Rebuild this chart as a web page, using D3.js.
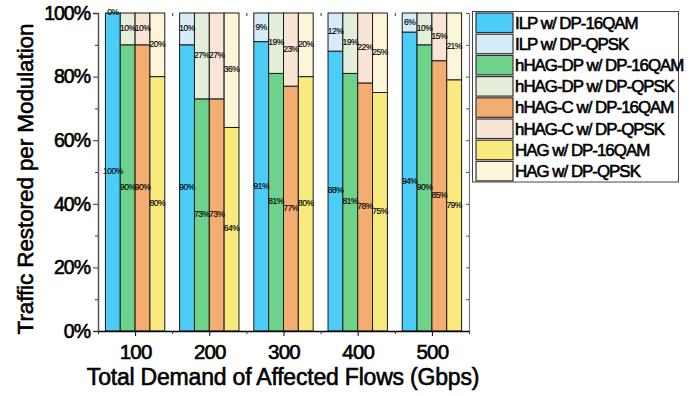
<!DOCTYPE html>
<html>
<head>
<meta charset="utf-8">
<script src="https://cdn.jsdelivr.net/npm/d3@7"></script>
<style>
  html, body { margin: 0; padding: 0; background: #fff; }
  svg { display: block; }
  text { font-family: "Liberation Sans", Arial, sans-serif; fill: #000; }
  .heavy { stroke: #000; stroke-width: 0.6px; }
</style>
</head>
<body>
<svg id="chart" width="691" height="396"></svg>
<script>
// Total demand of affected flows (Gbps)
const demands = [100, 200, 300, 400, 500];

// Algorithms, drawn left to right inside each demand group
const algorithms = ["ILP", "hHAG-DP", "hHAG-C", "HAG"];

// Share of traffic restored with DP-16QAM (%) per algorithm, per demand
const ilp16qam    = [100, 90, 91, 88, 94];
const hhagDp16qam = [90, 73, 81, 81, 90];
const hhagC16qam  = [90, 73, 77, 78, 85];
const hag16qam    = [80, 64, 80, 75, 79];

// Share of traffic restored with DP-QPSK (%) per algorithm, per demand
const ilpQpsk    = [0, 10, 9, 12, 6];
const hhagDpQpsk = [10, 27, 19, 19, 10];
const hhagCQpsk  = [10, 27, 23, 22, 15];
const hagQpsk    = [20, 36, 20, 25, 21];

const yTicks = [0, 20, 40, 60, 80, 100];

const legendLabels = [
  "ILP w/ DP-16QAM", "ILP w/ DP-QPSK",
  "hHAG-DP w/ DP-16QAM", "hHAG-DP w/ DP-QPSK",
  "hHAG-C w/ DP-16QAM", "hHAG-C w/ DP-QPSK",
  "HAG w/ DP-16QAM", "HAG w/ DP-QPSK"
];
const colors = [
  "#4ccdf8", "#d6ecf8",
  "#6dd38a", "#e3eedb",
  "#f4ad70", "#f8e5d6",
  "#f9ea7d", "#faf6d7"
];

const strong = [ilp16qam, hhagDp16qam, hhagC16qam, hag16qam];
const weak   = [ilpQpsk, hhagDpQpsk, hhagCQpsk, hagQpsk];

const svg = d3.select("#chart");

const x = d3.scaleLinear().domain([50, 550]).range([98, 469]);
const y = d3.scaleLinear().domain([0, 100]).range([331, 13]);
const barW = 20;            // bar width in Gbps units
const offsets = [-40, -20, 0, 20];

// stacked segments: 16QAM at the bottom, QPSK on top
const segments = [];
demands.forEach((d, i) => {
  algorithms.forEach((a, k) => {
    const lo = strong[k][i], hi = weak[k][i];
    segments.push({ d, k, y0: 0, y1: lo, v: lo, color: colors[2 * k] });
    segments.push({ d, k, y0: lo, y1: lo + hi, v: hi, color: colors[2 * k + 1] });
  });
});

const g = svg.append("g");

g.selectAll("rect.seg").data(segments).join("rect")
  .attr("class", "seg")
  .attr("x", s => x(s.d + offsets[s.k]))
  .attr("width", s => x(s.d + offsets[s.k] + barW) - x(s.d + offsets[s.k]))
  .attr("y", s => y(s.y1))
  .attr("height", s => y(s.y0) - y(s.y1))
  .attr("fill", s => s.color)
  .attr("stroke", "#1a1a1a")
  .attr("stroke-width", 1);

// value labels at the middle of every segment
g.selectAll("text.val").data(segments).join("text")
  .attr("class", "val")
  .attr("x", s => x(s.d + offsets[s.k] + barW / 2))
  .attr("y", s => y((s.y0 + s.y1) / 2))
  .attr("text-anchor", "middle")
  .attr("dominant-baseline", "middle")
  .attr("font-size", 8.5)
  .attr("letter-spacing", -0.5)
  .attr("stroke", "#000").attr("stroke-width", 0.15)
  .text(s => s.v + "%");

// left axis
const yAxis = d3.axisLeft(y).tickValues(yTicks).tickSize(5).tickPadding(3)
  .tickFormat(d => d + "%");
const ya = svg.append("g").attr("transform", `translate(${x(50)},0)`).call(yAxis);
ya.select(".domain").attr("stroke", "#555").attr("stroke-width", 1.5);
ya.selectAll(".tick line").attr("stroke", "#333");
ya.selectAll(".tick text").attr("font-size", 19.5).attr("letter-spacing", -1)
  .attr("class", "heavy")
  .attr("font-family", "Liberation Sans, Arial, sans-serif").attr("fill", "#000");
// left minor ticks
svg.append("g").attr("transform", `translate(${x(50)},0)`)
  .call(d3.axisLeft(y).tickValues([10, 30, 50, 70, 90]).tickSize(3).tickFormat(""))
  .call(s => s.select(".domain").remove())
  .selectAll("line").attr("stroke", "#333");

// right axis with inward ticks
svg.append("g").attr("transform", `translate(${x(550)},0)`)
  .call(d3.axisLeft(y).tickValues(d3.range(0, 101, 10)).tickSize(3).tickSizeOuter(0).tickFormat(""))
  .call(s => s.select(".domain").attr("stroke", "#777").attr("stroke-width", 1.2))
  .selectAll("line").attr("stroke", "#555");

// bottom axis
const xAxis = d3.axisBottom(x).tickValues(demands).tickSize(5).tickPadding(8).tickSizeOuter(0);
const xa = svg.append("g").attr("transform", `translate(0,${y(0)})`).call(xAxis);
xa.select(".domain").attr("stroke", "#000").attr("stroke-width", 1.5);
xa.selectAll(".tick text").attr("font-size", 20.5).attr("letter-spacing", -0.8)
  .attr("class", "heavy")
  .attr("font-family", "Liberation Sans, Arial, sans-serif").attr("fill", "#000");
svg.append("g").attr("transform", `translate(0,${y(0)})`)
  .call(d3.axisBottom(x).tickValues([50, 150, 250, 350, 450, 550]).tickSize(3).tickFormat(""))
  .call(s => s.select(".domain").remove())
  .selectAll("line").attr("stroke", "#333");

// top inward minor ticks
svg.append("g").attr("transform", `translate(0,${y(100)})`)
  .call(d3.axisBottom(x).tickValues([150, 250, 350, 450]).tickSize(3).tickFormat(""))
  .call(s => s.select(".domain").remove())
  .selectAll("line").attr("stroke", "#333");

// axis titles
svg.append("text")
  .attr("class", "heavy")
  .attr("transform", "translate(33,179) rotate(-90)")
  .attr("text-anchor", "middle")
  .attr("font-size", 22.5)
  .attr("letter-spacing", -0.1)
  .text("Traffic Restored per Modulation");

svg.append("text")
  .attr("class", "heavy")
  .attr("x", 283).attr("y", 385)
  .attr("text-anchor", "middle")
  .attr("font-size", 23)
  .attr("letter-spacing", -0.2)
  .text("Total Demand of Affected Flows (Gbps)");

// legend
const lg = svg.append("g");
lg.append("rect")
  .attr("x", 472.5).attr("y", 11.5).attr("width", 206).attr("height", 170.5)
  .attr("fill", "#fff").attr("stroke", "#444").attr("stroke-width", 1);
const rowH = 21.2;
const rows = lg.selectAll("g.row").data(legendLabels).join("g")
  .attr("class", "row")
  .attr("transform", (d, i) => `translate(476,${13 + i * rowH})`);
rows.append("rect")
  .attr("width", 37).attr("height", 19.5)
  .attr("fill", (d, i) => colors[i])
  .attr("stroke", "#333").attr("stroke-width", 1.2);
rows.append("text")
  .attr("class", "heavy")
  .attr("x", 39).attr("y", 15.5)
  .attr("font-size", 16.9)
  .attr("letter-spacing", -1)
  .attr("stroke-width", 0.4)
  .text(d => d);
</script>
</body>
</html>
